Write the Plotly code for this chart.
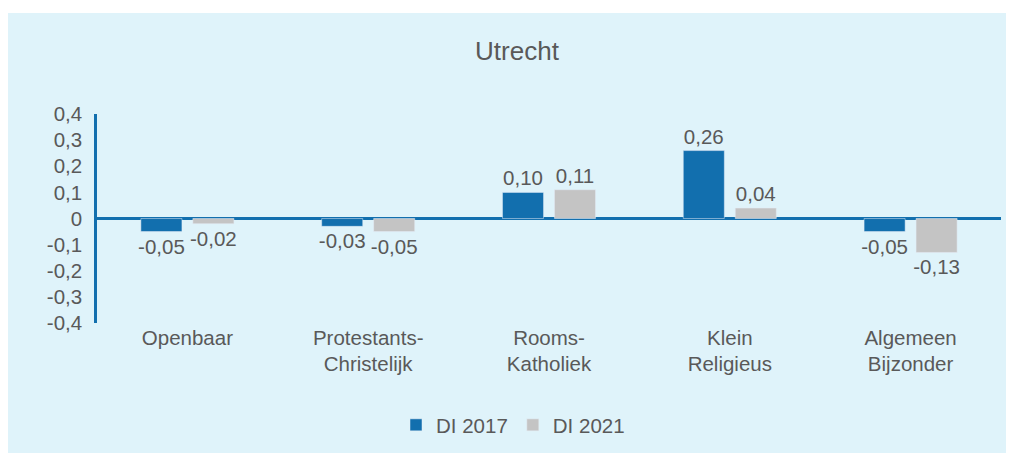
import plotly.graph_objects as go

categorieen = ['Openbaar', 'Protestants-<br>Christelijk', 'Rooms-<br>Katholiek',
               'Klein<br>Religieus', 'Algemeen<br>Bijzonder']
di_2017 = [-0.05, -0.03, 0.10, 0.26, -0.05]
di_2021 = [-0.02, -0.05, 0.11, 0.04, -0.13]
y_ticks = [0.4, 0.3, 0.2, 0.1, 0, -0.1, -0.2, -0.3, -0.4]
y_ticktekst = ['0,4', '0,3', '0,2', '0,1', '0', '-0,1', '-0,2', '-0,3', '-0,4']

BLAUW = '#126fae'
GRIJS = '#c4c4c4'
ACHTERGROND = '#dff3fa'
TEKST = '#595959'
FONT = 'Liberation Sans, Arial, sans-serif'

# pagina heeft 8px body-marge, dus figuur iets kleiner
B, H = 1006, 445


def label(v):
    return f'{v:.2f}'.replace('.', ',')


fig = go.Figure()

fig.add_trace(go.Bar(
    x= categorieen,
    y= di_2017,
    name= 'DI 2017',
    marker= dict(color= BLAUW),
    text= [label(v) for v in di_2017],
    textposition= 'outside',
    constraintext= 'none',
    cliponaxis= False,
    textfont= dict(size=20.5, color= TEKST)
))

fig.add_trace(go.Bar(
    x= categorieen,
    y= di_2021,
    name= 'DI 2021',
    marker= dict(color= GRIJS),
    text= [label(v) for v in di_2021],
    textposition= 'outside',
    constraintext= 'none',
    cliponaxis= False,
    textfont= dict(size=20.5, color= TEKST)
))

# smalle witte strook bovenaan
fig.add_shape(
    type= 'rect',
    xref= 'paper', yref= 'paper',
    x0= -0.2, x1= 1.2,
    y0= 310/209, y1= 320/209,
    fillcolor= 'white',
    line= dict(width=0),
    layer= 'below'
)

fig.update_layout(
    width= B,
    height= H,
    margin= dict(l=89, r=13, t=106, b=130),
    paper_bgcolor= ACHTERGROND,
    plot_bgcolor= ACHTERGROND,
    font= dict(family= FONT, size=20.5, color= TEKST),
    title= dict(
        text= 'Utrecht',
        x= 509/B, xref= 'container', xanchor= 'center',
        y= 1 - 43/H, yref= 'container', yanchor= 'middle',
        font= dict(size=26, color= TEKST)
    ),
    barmode= 'group',
    bargap= 0.425,
    bargroupgap= 0.21,
    showlegend= True,
    legend= dict(
        orientation= 'h',
        x= 505/B, xref= 'container', xanchor= 'center',
        y= 1 - 417/H, yref= 'container', yanchor= 'middle',
        font= dict(size=20.5, color= TEKST),
        bgcolor= 'rgba(0,0,0,0)',
        itemwidth= 30
    ),
    xaxis= dict(
        showgrid= False,
        showline= False,
        ticks= '',
        tickfont= dict(size=20.5, color= TEKST)
    ),
    yaxis= dict(
        range= [-0.4, 0.4],
        tickvals= y_ticks,
        ticktext= y_ticktekst,
        showgrid= False,
        showline= True,
        linecolor= BLAUW,
        linewidth= 2.5,
        zeroline= True,
        zerolinecolor= BLAUW,
        zerolinewidth= 2.5,
        ticks= 'outside',
        ticklen= 8,
        tickcolor= 'rgba(0,0,0,0)',
        tickfont= dict(size=20.5, color= TEKST)
    )
)

fig.write_html('out.html')
